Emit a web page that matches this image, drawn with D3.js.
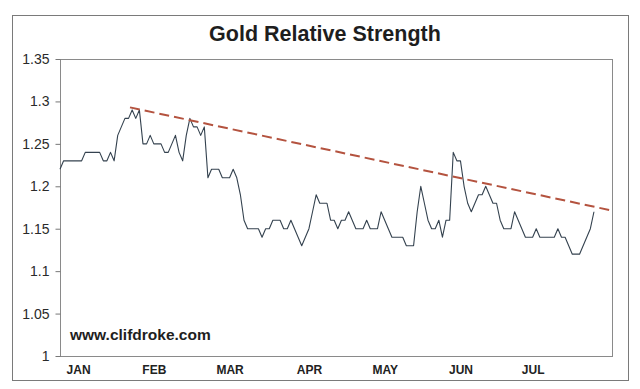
<!DOCTYPE html>
<html>
<head>
<meta charset="utf-8">
<script src="https://cdn.jsdelivr.net/npm/d3@7"></script>
<style>
  html, body { margin: 0; padding: 0; background: #fff; }
  svg { display: block; }
</style>
</head>
<body>
<svg id="chart"></svg>
<script>
// daily readings, Jan -> Jul
var values = [
  1.22,1.23,1.23,1.23,1.23,1.23,1.23,1.24,1.24,1.24,1.24,1.24,1.23,1.23,1.24,1.23,1.26,1.27,1.28,1.28,1.29,1.28,1.29,1.25,1.25,
  1.26,1.25,1.25,1.25,1.24,1.24,1.25,1.26,1.24,1.23,1.26,1.28,1.27,1.27,1.26,1.27,1.21,1.22,1.22,1.22,1.21,1.21,1.21,1.22,1.21,
  1.19,1.16,1.15,1.15,1.15,1.15,1.14,1.15,1.15,1.16,1.16,1.16,1.15,1.15,1.16,1.15,1.14,1.13,1.14,1.15,1.17,1.19,1.18,1.18,1.18,
  1.16,1.16,1.15,1.16,1.16,1.17,1.16,1.15,1.15,1.15,1.16,1.15,1.15,1.15,1.17,1.16,1.15,1.14,1.14,1.14,1.14,1.13,1.13,1.13,1.17,
  1.20,1.18,1.16,1.15,1.15,1.16,1.14,1.16,1.16,1.24,1.23,1.23,1.20,1.18,1.17,1.18,1.19,1.19,1.20,1.19,1.18,1.18,1.16,1.15,1.15,
  1.15,1.17,1.16,1.15,1.14,1.14,1.14,1.15,1.14,1.14,1.14,1.14,1.14,1.15,1.14,1.14,1.13,1.12,1.12,1.12,1.13,1.14,1.15,1.17
];
var months = ["JAN","FEB","MAR","APR","MAY","JUN","JUL"];
var monthTickIdx = [5, 26, 47, 69, 90, 111, 131];
var yTicks = [1, 1.05, 1.1, 1.15, 1.2, 1.25, 1.3, 1.35];
// falling trend line: [index, value]
var trendIdx = [19.4, 153.4];
var trendVal = [1.293, 1.171];

var W = 640, H = 389;
var plot = {left: 60, right: 612, top: 59, bottom: 356};

var svg = d3.select("#chart").attr("width", W).attr("height", H);

// outer frame
svg.append("rect")
    .attr("x", 12.5).attr("y", 15.5)
    .attr("width", 616).attr("height", 365)
    .attr("fill", "#fff")
    .attr("stroke", "#7a7a7a")
    .attr("stroke-width", 1);

var x = d3.scaleLinear().domain([0, 153]).range([plot.left, plot.right]);
var y = d3.scaleLinear().domain([1, 1.35]).range([plot.bottom, plot.top]);

// plot area border
svg.append("rect")
    .attr("x", plot.left + 0.5).attr("y", plot.top + 0.5)
    .attr("width", plot.right - plot.left).attr("height", plot.bottom - plot.top)
    .attr("fill", "none")
    .attr("stroke", "#8a8a8a")
    .attr("stroke-width", 1);

// title
svg.append("text")
    .attr("x", 325).attr("y", 41)
    .attr("text-anchor", "middle")
    .attr("font-family", "Liberation Sans, Arial, sans-serif")
    .attr("font-size", "21.5px")
    .attr("font-weight", "bold")
    .attr("fill", "#1e1e1e")
    .text("Gold Relative Strength");

// y axis
var yAxis = svg.append("g")
    .attr("transform", "translate(" + (plot.left + 0.5) + ",0)")
    .call(d3.axisLeft(y).tickValues(yTicks).tickSize(5).tickPadding(6).tickFormat(d3.format("~g")));
yAxis.select(".domain").remove();
yAxis.selectAll("line").attr("stroke", "#777");
yAxis.selectAll("text")
    .attr("font-family", "Liberation Sans, Arial, sans-serif")
    .attr("font-size", "14px")
    .attr("fill", "#2a2a2a");

// x axis (month labels)
var xAxis = svg.append("g")
    .attr("transform", "translate(0," + plot.bottom + ")")
    .call(d3.axisBottom(x).tickValues(monthTickIdx).tickSize(0).tickPadding(9)
      .tickFormat(function(d, i) { return months[i]; }));
xAxis.select(".domain").remove();
xAxis.selectAll("text")
    .attr("font-family", "Liberation Sans, Arial, sans-serif")
    .attr("font-size", "12px")
    .attr("font-weight", "bold")
    .attr("fill", "#222");

// the series
var line = d3.line()
    .x(function(d, i) { return x(i); })
    .y(function(d) { return y(d); });

svg.append("path")
    .datum(values)
    .attr("d", line)
    .attr("fill", "none")
    .attr("stroke", "#34424f")
    .attr("stroke-width", 1.1)
    .attr("stroke-linejoin", "round");

// dashed trend line
svg.append("line")
    .attr("x1", x(trendIdx[0])).attr("y1", y(trendVal[0]))
    .attr("x2", x(trendIdx[1])).attr("y2", y(trendVal[1]))
    .attr("stroke", "#b4533f")
    .attr("stroke-width", 2)
    .attr("stroke-dasharray", "10,5");

// watermark
svg.append("text")
    .attr("x", 70).attr("y", 340)
    .attr("font-family", "Liberation Sans, Arial, sans-serif")
    .attr("font-size", "15.5px")
    .attr("font-weight", "bold")
    .attr("fill", "#1e1e1e")
    .text("www.clifdroke.com");
</script>
</body>
</html>
